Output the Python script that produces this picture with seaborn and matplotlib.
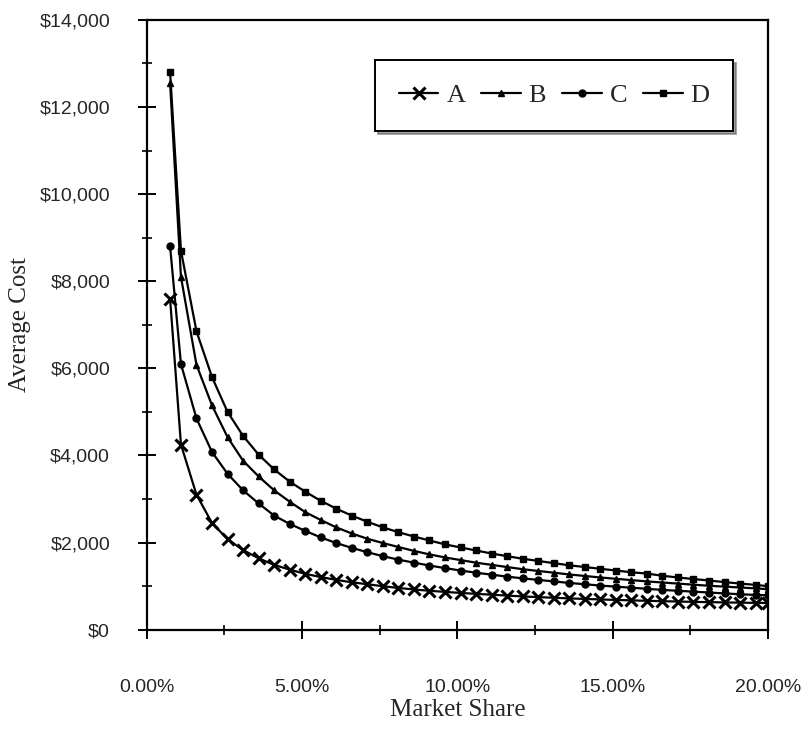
import numpy as np
import pandas as pd
import matplotlib
matplotlib.use('Agg')
import matplotlib.pyplot as plt
import matplotlib.ticker as mticker
import seaborn as sns

sns.set_style('ticks')
plt.rcParams['font.family'] = ['Liberation Serif', 'DejaVu Serif']

# market share (%) for every plotted point
share = [0.75, 1.1, 1.6, 2.1, 2.6, 3.1, 3.6, 4.1, 4.6, 5.1,
         5.6, 6.1, 6.6, 7.1, 7.6, 8.1, 8.6, 9.1, 9.6, 10.1,
         10.6, 11.1, 11.6, 12.1, 12.6, 13.1, 13.6, 14.1, 14.6, 15.1,
         15.6, 16.1, 16.6, 17.1, 17.6, 18.1, 18.6, 19.1, 19.6, 20.0]

# average cost per firm
cost_a = [7600, 4250, 3100, 2450, 2080, 1830, 1640, 1490, 1380, 1285,
          1210, 1145, 1090, 1045, 1000, 960, 925, 895, 870, 845,
          825, 805, 785, 765, 750, 735, 720, 708, 696, 685,
          675, 665, 656, 648, 640, 634, 628, 622, 618, 615]
cost_b = [12550, 8100, 6080, 5150, 4420, 3880, 3520, 3200, 2940, 2700,
          2520, 2350, 2210, 2090, 1990, 1900, 1810, 1730, 1660, 1600,
          1540, 1490, 1440, 1390, 1350, 1310, 1270, 1235, 1200, 1170,
          1140, 1110, 1085, 1060, 1035, 1010, 990, 970, 950, 930]
cost_c = [8800, 6100, 4850, 4080, 3580, 3200, 2900, 2620, 2430, 2270,
          2120, 1990, 1880, 1780, 1690, 1610, 1540, 1475, 1415, 1360,
          1310, 1265, 1220, 1180, 1145, 1110, 1075, 1045, 1015, 990,
          965, 940, 915, 895, 875, 855, 835, 815, 800, 790]
cost_d = [12800, 8700, 6850, 5800, 5000, 4450, 4020, 3680, 3400, 3170,
          2960, 2780, 2620, 2480, 2350, 2240, 2140, 2050, 1960, 1890,
          1820, 1750, 1690, 1630, 1580, 1530, 1480, 1440, 1400, 1360,
          1320, 1290, 1240, 1200, 1165, 1130, 1095, 1060, 1030, 1000]

firms = ['A', 'B', 'C', 'D']
all_costs = [cost_a, cost_b, cost_c, cost_d]
marker_styles = {'A': ('x', 9, 2.2), 'B': ('^', 5, 1.0), 'C': ('o', 5, 1.0), 'D': ('s', 4, 1.0)}

fig = plt.figure(figsize=(8.11, 7.34), dpi=100)
ax = fig.add_axes([0.181, 0.142, 0.766, 0.831])

for firm, cost in zip(firms, all_costs):
    m, ms, mew = marker_styles[firm]
    sns.lineplot(x=share, y=cost, color='black', marker=m, markersize=ms,
                 markeredgewidth=mew, markeredgecolor='black', linewidth=1.6,
                 ax=ax, label=firm, legend=False)

ax.set_xlim(0, 20)
ax.set_ylim(0, 14000)
ax.xaxis.set_major_locator(mticker.MultipleLocator(5))
ax.xaxis.set_minor_locator(mticker.MultipleLocator(2.5))
ax.yaxis.set_major_locator(mticker.MultipleLocator(2000))
ax.yaxis.set_minor_locator(mticker.MultipleLocator(1000))
ax.xaxis.set_major_formatter(mticker.FuncFormatter(lambda v, p: f'{v:.2f}%'))
ax.yaxis.set_major_formatter(mticker.FuncFormatter(lambda v, p: f'${v:,.0f}'))

ax.tick_params(which='major', direction='inout', length=13, width=1.4, color='black')
ax.tick_params(which='minor', direction='inout', length=7, width=1.2, color='black')
ax.tick_params(axis='y', which='major', pad=20)
ax.tick_params(axis='x', which='major', pad=29)
for lab in ax.get_xticklabels() + ax.get_yticklabels():
    lab.set_family(['Liberation Sans Narrow', 'Liberation Sans', 'DejaVu Sans'])
    lab.set_fontsize(14)

for s in ax.spines.values():
    s.set_linewidth(1.6)
    s.set_color('black')

ax.set_xlabel('Market Share', fontsize=18, labelpad=2)
ax.set_ylabel('Average Cost', fontsize=18, labelpad=6)

handles = ax.get_lines()[:4]
leg = ax.legend(handles, firms, ncol=4, loc='upper right', bbox_to_anchor=(0.944, 0.934),
                borderaxespad=0, fontsize=19, frameon=True, fancybox=False, shadow=True,
                handlelength=1.5, handletextpad=0.3, columnspacing=0.6,
                borderpad=0.9, edgecolor='black')
leg.get_frame().set_linewidth(1.4)

fig.savefig('out.png', dpi=100, facecolor='white')
